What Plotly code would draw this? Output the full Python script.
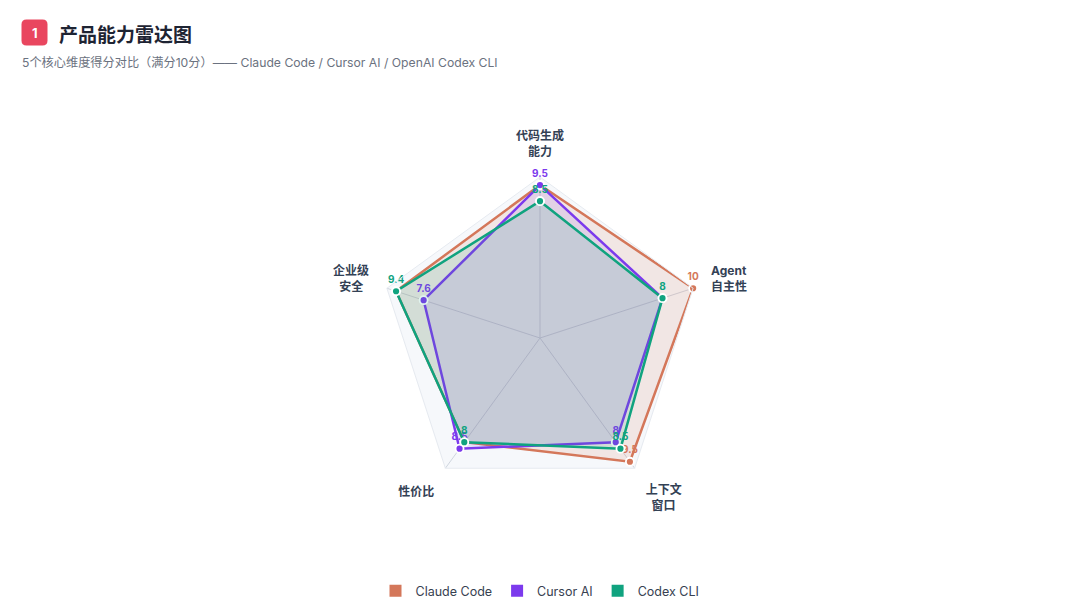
import plotly.graph_objects as go

# 维度与得分（满分10分）
NB = "\u00a0"
categories = ["代码生成<br>能力", "Agent<br>自主性", f"上下文<br>{NB * 2}窗口", "性价比", f"企业级<br>安全{NB * 2}"]
series_names = ["Claude Code", "Cursor AI", "Codex CLI"]
claude_scores = [9.5, 10, 9.5, 8, 9.4]
cursor_scores = [9.5, 8, 8, 8.5, 7.6]
codex_scores = [8.5, 8, 8.5, 8, 9.4]
# 哪些数值标签显示（重叠的被隐藏）
claude_show = [False, True, True, False, False]
cursor_show = [True, False, True, True, True]
codex_show = [True, True, True, True, True]

colors = ["#d4775a", "#7c3aed", "#10a37f"]
fills = ["rgba(212,119,90,0.14)", "rgba(124,58,237,0.12)", "rgba(16,163,127,0.13)"]

W, H = 1080, 616
OFF = 8  # 页面 body 默认留白
cx, cy, R = 540 - OFF, 338 - OFF, 161


def px(x):
    return (x - OFF) / W


def py(y):
    return 1 - (y - OFF) / H


fig = go.Figure()

for name, vals, show, col, fc in zip(series_names,
                                     [claude_scores, cursor_scores, codex_scores],
                                     [claude_show, cursor_show, codex_show],
                                     colors, fills):
    labels = [f"{v:g}" if s else "" for v, s in zip(vals, show)]
    fig.add_trace(go.Scatterpolar(
        r=vals + [vals[0]],
        theta=categories + [categories[0]],
        text=labels + [""],
        mode="lines+markers+text",
        textposition="top center",
        textfont=dict(color=col, size=10, family="Inter, Noto Sans CJK SC", weight="bold"),
        fill="toself",
        fillcolor=fc,
        line=dict(color=col, width=2.5),
        marker=dict(size=8, color=col, line=dict(color="white", width=1.8)),
        name=name,
        legendgroup=name,
        showlegend=False,
    ))
    # 图例用方块
    fig.add_trace(go.Scatterpolar(
        r=[None], theta=[categories[0]],
        mode="markers",
        marker=dict(symbol="square", size=12, color=col),
        name=name,
        legendgroup=name,
        showlegend=True,
    ))

# 标题徽标（圆角方块）
bw, rr = 26, 5
h = bw / 2
badge_path = (f"M {-h + rr},{-h} L {h - rr},{-h} Q {h},{-h} {h},{-h + rr} "
              f"L {h},{h - rr} Q {h},{h} {h - rr},{h} L {-h + rr},{h} "
              f"Q {-h},{h} {-h},{h - rr} L {-h},{-h + rr} Q {-h},{-h} {-h + rr},{-h} Z")
fig.add_shape(type="path", xref="paper", yref="paper",
              xsizemode="pixel", ysizemode="pixel",
              xanchor=px(34.5), yanchor=py(32.5),
              path=badge_path, fillcolor="#e9465f", line=dict(width=0))

fig.add_annotation(x=px(34.5), y=py(32.5), xref="paper", yref="paper",
                   xanchor="center", yanchor="middle",
                   text="<b>1</b>", showarrow=False,
                   font=dict(size=13, color="white", family="Inter, Noto Sans CJK SC"))
fig.add_annotation(x=px(57), y=py(33), xref="paper", yref="paper",
                   xanchor="left", yanchor="middle",
                   text="<b>产品能力雷达图</b>", showarrow=False,
                   font=dict(size=19, color="#1e2433", family="Noto Sans CJK SC"))
fig.add_annotation(x=px(20), y=py(62), xref="paper", yref="paper",
                   xanchor="left", yanchor="middle",
                   text="5个核心维度得分对比（满分10分）—— Claude Code / Cursor AI / OpenAI Codex CLI",
                   showarrow=False,
                   font=dict(size=12.2, color="#6b7280", family="Inter, Noto Sans CJK SC"))

fig.update_layout(
    width=W, height=H,
    margin=dict(l=0, r=0, t=0, b=0),
    paper_bgcolor="white",
    font=dict(family="Inter, Noto Sans CJK SC", color="#334155"),
    polar=dict(
        domain=dict(x=[(cx - R) / W, (cx + R) / W], y=[1 - (cy + R) / H, 1 - (cy - R) / H]),
        gridshape="linear",
        bgcolor="#f6f8fb",
        angularaxis=dict(
            rotation=90, direction="clockwise",
            tickfont=dict(size=12, color="#334155", family="Inter, Noto Sans CJK SC", weight="bold"),
            ticks="outside", ticklen=16, tickcolor="rgba(0,0,0,0)",
            showline=True, linecolor="#e6eaf0", linewidth=1,
            gridcolor="#cfd5de", gridwidth=1,
        ),
        radialaxis=dict(
            range=[0, 10], showticklabels=False, ticks="",
            showline=False, showgrid=False,
        ),
    ),
    legend=dict(orientation="h", x=px(540), xanchor="center", y=py(591), yanchor="middle",
                font=dict(size=12.5, color="#374151"), itemwidth=30, tracegroupgap=0),
    showlegend=True,
)

fig.write_html("out.html")
